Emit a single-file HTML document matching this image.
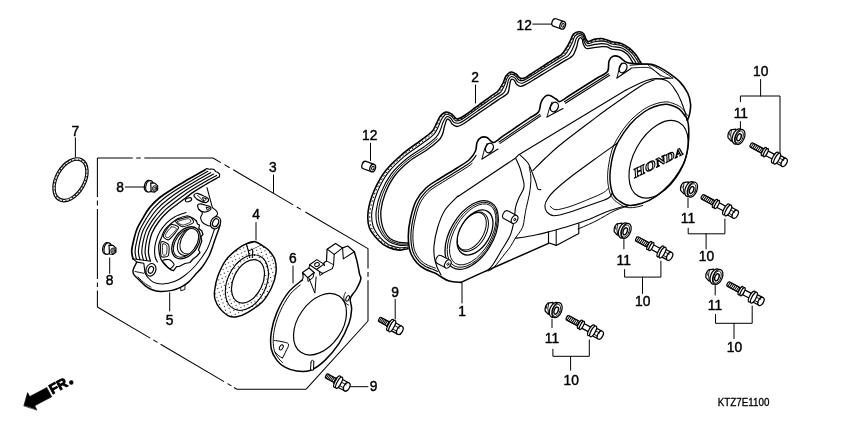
<!DOCTYPE html>
<html><head><meta charset="utf-8"><title>diagram</title>
<style>html,body{margin:0;padding:0;background:#fff;}svg{display:block;will-change:transform;filter:grayscale(1)}
text{font-family:"Liberation Sans",sans-serif;fill:#000;stroke:#000;stroke-width:0.42px}</style></head>
<body><svg width="850" height="425" viewBox="0 0 850 425" stroke-linecap="round" stroke-linejoin="round">
<rect width="850" height="425" fill="#fff"/>
<path d="M408 248.7C406.6 248.9 402.8 250.3 399.5 250.1C396.2 249.9 391.7 249 388.2 247.3C384.7 245.7 381.5 243.5 378.4 240.2C375.2 236.9 371 232.4 369.3 227.5C367.6 222.6 367.4 217.1 368.2 211C369 204.9 371.2 197.5 374.1 190.8C377 184.2 380.7 177.2 385.4 171.1C390.1 165 396.6 159.1 402.4 154.1C408.2 149.1 415.1 144.7 420 141C424.9 137.3 429.1 134.7 431.8 131.8C434.6 128.9 435.1 126 436.5 123.5C437.9 121 438.4 118.4 440 116.5C441.6 114.6 443.9 112.5 445.9 112.1C447.9 111.7 450 113 451.8 114.1C453.6 115.2 454.9 118.2 456.5 118.8C458.1 119.4 459.6 118.3 461.2 117.6C462.8 116.9 464.1 115.8 466 114.5C467.9 113.2 470.3 111.4 472.4 109.8C474.5 108.2 476.7 106.7 478.8 105.1C480.9 103.5 483.1 102 485.2 100.4C487.3 98.8 489.5 97.3 491.6 95.7C493.7 94.1 496.1 93.1 498 91C499.9 88.9 501.7 85.5 503 83C504.3 80.5 504.7 77.8 506 76C507.3 74.2 509.3 72.3 511 72C512.7 71.7 514.5 73 516 74C517.5 75 518.6 77.3 520 78C521.4 78.7 522.8 78.6 524.5 78C526.2 77.4 528 75.8 530 74.5C532 73.2 534.3 71.8 536.4 70.4C538.5 69 540.7 67.7 542.8 66.3C544.9 64.9 547.1 63.6 549.2 62.2C551.3 60.8 553.5 59.5 555.6 58.1C557.7 56.7 560.1 55.9 562 54C563.9 52.1 565.6 49.3 567 47C568.4 44.7 569.5 42.1 570.6 40C571.7 37.9 572.1 35.5 573.5 34.1C574.9 32.7 577.1 31.9 578.8 31.8C580.5 31.7 582.3 32.3 583.5 33.5C584.7 34.7 585.1 37.5 585.9 38.8C586.7 40.1 587.1 41.4 588.5 41.5C589.9 41.6 592 39.9 594.1 39.4C596.2 38.9 599.1 38.4 601.2 38.5C603.4 38.6 605.2 39.5 607 40C608.8 40.5 609.4 41.2 611.8 41.8C614.2 42.4 618.3 42.4 621.2 43.5C624.1 44.6 627 46.4 629.4 48.2C631.8 50 633.5 51.9 635.3 54.1C637.1 56.3 638.7 59.2 640 61.2C641.3 63.2 642.5 65.2 643 66" stroke="#000" stroke-width="1.6" fill="none" />
<path d="M408 247C406.5 247.1 402.4 248.1 399.2 247.7C396 247.3 391.9 246.3 388.7 244.7C385.6 243 382.9 240.7 380.2 237.6C377.6 234.5 374.3 230.3 373 225.8C371.6 221.4 371.3 216.4 372 210.7C372.8 205 374.7 198.1 377.4 191.8C380.1 185.4 383.6 178.5 388.1 172.6C392.6 166.7 398.8 161.1 404.4 156.3C410 151.5 416.9 147.5 421.8 143.8C426.7 140.2 431.1 137.3 433.8 134.4C436.6 131.5 437.1 129.1 438.3 126.7C439.6 124.2 440 121.7 441.3 119.7C442.6 117.6 444.6 114.9 446.2 114.3C447.9 113.7 449.8 115 451.3 116C452.8 117.1 453.8 119.7 455.3 120.5C456.7 121.2 458.3 120.8 459.9 120.3C461.6 119.8 463 118.7 465.1 117.3C467.2 116 469.9 113.9 472.2 112.2C474.6 110.5 477 108.8 479.4 107.1C481.8 105.4 484.2 103.7 486.6 102C488.9 100.3 491.3 98.6 493.7 96.9C496.1 95.2 499 93.9 500.9 91.8C502.7 89.6 503.8 86.5 504.9 84.2C506 81.9 506.2 79.3 507.3 77.7C508.4 76 509.9 74.4 511.3 74.2C512.6 73.9 514.3 75 515.5 76C516.8 76.9 517.6 79.1 519 79.9C520.3 80.6 521.7 80.9 523.5 80.5C525.2 80 527.1 78.5 529.2 77.2C531.4 75.9 534 74.2 536.4 72.7C538.8 71.2 541.1 69.7 543.5 68.2C545.9 66.7 548.3 65.2 550.7 63.7C553 62.2 555.4 60.7 557.8 59.2C560.2 57.7 563 56.5 564.9 54.8C566.8 53 568 50.8 569.2 48.6C570.5 46.5 571.5 44 572.5 42C573.4 39.9 573.7 37.6 574.9 36.2C576 34.8 577.8 33.7 579.2 33.6C580.5 33.5 582.1 34.2 583.1 35.3C584.1 36.4 584.3 39 585.1 40.4C585.9 41.7 586.3 43.4 587.9 43.6C589.5 43.8 592.2 42.2 594.5 41.8C596.7 41.4 599.4 40.9 601.4 40.9C603.5 41 605.3 41.5 607 42C608.7 42.6 609.4 43.4 611.8 44C614.2 44.6 618.4 44.5 621.2 45.5C624 46.5 626.6 48.3 628.7 50C630.8 51.6 632.4 53.5 633.9 55.5C635.4 57.5 636.8 59.9 637.9 61.7C639 63.5 640.1 65.5 640.6 66.3" stroke="#000" stroke-width="1.1" fill="none" />
<path d="M408 245.1C406.5 245.1 402 245.7 398.9 245.1C395.8 244.6 392.1 243.5 389.3 241.8C386.6 240 384.3 237.7 382.2 234.7C380.2 231.8 378 228.1 377 224C376 220 375.6 215.6 376.3 210.4C376.9 205.2 378.5 198.8 381 192.8C383.4 186.8 386.9 179.9 391.1 174.2C395.4 168.5 401.1 163.3 406.6 158.8C412 154.2 418.9 150.6 423.8 147C428.7 143.4 433.3 140.1 436 137.3C438.8 134.5 439.2 132.5 440.3 130.1C441.5 127.8 441.7 125.4 442.7 123.1C443.8 120.9 445.3 117.5 446.6 116.7C447.9 115.9 449.4 117.3 450.7 118.2C451.9 119.1 452.6 121.4 453.9 122.3C455.2 123.1 456.9 123.5 458.6 123.2C460.3 122.9 461.9 121.9 464.1 120.5C466.4 119.1 469.4 116.8 472.1 114.9C474.7 113 477.4 111.2 480.1 109.3C482.7 107.5 485.4 105.6 488 103.7C490.7 101.9 493.4 100 496 98.2C498.7 96.3 502.2 94.7 504 92.6C505.8 90.5 506.2 87.7 507 85.5C507.8 83.3 507.9 81 508.7 79.5C509.5 78 510.5 76.8 511.6 76.5C512.6 76.3 514 77.2 515.1 78.1C516.1 79 516.6 81.1 517.8 81.9C519 82.8 520.5 83.5 522.3 83.2C524.1 82.9 526.1 81.5 528.4 80.2C530.8 78.8 533.7 76.9 536.4 75.3C539 73.6 541.7 72 544.3 70.3C547 68.7 549.6 67.1 552.3 65.4C554.9 63.8 557.6 62.1 560.2 60.5C562.9 58.9 566.3 57.2 568.2 55.6C570.1 53.9 570.7 52.4 571.7 50.5C572.8 48.6 573.7 46.1 574.5 44.1C575.3 42.1 575.5 39.9 576.3 38.4C577.2 37 578.5 35.8 579.6 35.6C580.6 35.4 582 36.2 582.7 37.3C583.5 38.4 583.5 40.6 584.3 42.1C585 43.5 585.5 45.5 587.2 45.9C589 46.3 592.4 44.8 594.9 44.4C597.3 44.1 599.7 43.6 601.7 43.6C603.7 43.6 605.3 43.8 607 44.3C608.7 44.8 609.4 45.9 611.8 46.5C614.2 47 618.5 46.9 621.2 47.8C623.9 48.7 626 50.4 627.9 51.9C629.7 53.5 631.1 55.3 632.3 57.1C633.6 58.8 634.7 60.7 635.6 62.3C636.5 63.9 637.6 65.9 638 66.6" stroke="#000" stroke-width="1.1" fill="none" />
<path d="M408 244.1C406.4 244 401.7 244.4 398.7 243.7C395.6 243 392.2 241.9 389.7 240.2C387.1 238.4 385.1 236 383.3 233.2C381.6 230.3 380 226.9 379.2 223C378.4 219.2 377.9 215.1 378.6 210.2C379.2 205.2 380.6 199.2 382.9 193.4C385.3 187.5 388.6 180.6 392.8 175.1C396.9 169.5 402.4 164.5 407.7 160.1C413.1 155.7 419.9 152.2 424.9 148.7C429.8 145.2 435.2 140.5 437.2 138.8" stroke="#000" stroke-width="0.95" fill="none" />
<path d="M408 243C406.4 242.9 401.5 242.9 398.5 242.2C395.5 241.4 392.3 240.3 390 238.5C387.7 236.7 385.9 234.2 384.5 231.5C383.1 228.8 382.1 225.6 381.5 222C380.9 218.4 380.4 214.7 381 210C381.6 205.3 382.8 199.7 385 194C387.2 188.3 390.5 181.4 394.5 176C398.5 170.6 403.8 165.8 409 161.5C414.2 157.2 421.1 154 426 150.5C430.9 147 435.7 143.2 438.5 140.5C441.3 137.8 441.6 136.2 442.6 134C443.6 131.8 443.6 129.4 444.3 127C445 124.6 446.1 120.5 447 119.4C447.9 118.3 449.1 119.8 450 120.6C450.9 121.4 451.2 123.3 452.4 124.3C453.6 125.3 455.2 126.5 457 126.5C458.8 126.5 460.5 125.4 463 124C465.5 122.6 468.9 119.9 471.9 117.9C474.9 115.9 477.8 113.8 480.8 111.8C483.8 109.8 486.7 107.7 489.7 105.7C492.7 103.7 495.6 101.6 498.6 99.6C501.6 97.6 505.7 95.6 507.5 93.5C509.3 91.4 508.8 89 509.3 87C509.8 85 509.9 82.8 510.3 81.5C510.7 80.2 511.2 79.4 511.9 79.2C512.6 79 513.7 79.7 514.5 80.5C515.3 81.3 515.4 83.2 516.5 84.2C517.6 85.2 519.2 86.4 521 86.3C522.8 86.2 524.9 84.9 527.5 83.5C530.1 82.1 533.4 79.9 536.4 78.1C539.3 76.3 542.3 74.5 545.2 72.7C548.2 70.9 551.1 69.1 554.1 67.3C557 65.5 560 63.7 562.9 61.9C565.9 60.1 569.9 58.1 571.8 56.5C573.7 54.9 573.7 54.2 574.5 52.5C575.3 50.8 576.2 48.4 576.8 46.5C577.4 44.6 577.5 42.5 578 41C578.5 39.5 579.3 38 580 37.8C580.7 37.5 581.8 38.5 582.3 39.5C582.8 40.5 582.6 42.5 583.3 44C584 45.5 584.5 47.9 586.5 48.5C588.5 49.1 592.7 47.7 595.3 47.4C597.9 47.1 600 46.7 602 46.6C604 46.5 605.4 46.4 607 46.8C608.6 47.2 609.4 48.6 611.8 49.2C614.2 49.8 618.7 49.5 621.2 50.3C623.7 51.1 625.4 52.7 627 54.1C628.6 55.5 629.6 57.3 630.6 58.8C631.6 60.3 632.3 61.6 633 63C633.7 64.4 634.7 66.3 635 67" stroke="#000" stroke-width="1.3" fill="none" />
<path d="M408 247.8C406.6 248 402.6 249.2 399.4 248.9C396.1 248.6 391.8 247.7 388.5 246C385.1 244.3 382.2 242.1 379.3 238.9C376.4 235.7 372.7 231.3 371.1 226.7C369.6 222 369.4 216.7 370.1 210.8C370.9 205 373 197.8 375.7 191.3C378.5 184.8 382.2 177.8 386.8 171.8C391.4 165.8 397.7 160.1 403.4 155.2C409.1 150.3 416 146.1 420.9 142.4C425.8 138.7 430.1 136 432.8 133.1C435.6 130.2 436.1 127.6 437.4 125.1C438.7 122.6 439.2 120.1 440.6 118.1C442.1 116.1 444.3 113.7 446.1 113.2C447.9 112.7 449.9 114 451.5 115.1C453.2 116.1 454.4 119 455.9 119.6C457.4 120.3 459 119.6 460.6 118.9C462.2 118.3 463.6 117.2 465.6 115.9C467.5 114.6 470.1 112.7 472.3 111C474.6 109.4 476.8 107.7 479.1 106.1C481.4 104.5 483.6 102.8 485.9 101.2C488.1 99.6 490.4 97.9 492.7 96.3C494.9 94.6 497.5 93.5 499.4 91.4C501.3 89.3 502.7 86 503.9 83.6C505.1 81.2 505.4 78.6 506.6 76.8C507.8 75.1 509.6 73.4 511.1 73.1C512.7 72.8 514.4 74 515.8 75C517.2 75.9 518.1 78.2 519.5 78.9C520.8 79.6 522.3 79.8 524 79.2C525.7 78.7 527.6 77.1 529.6 75.8C531.7 74.6 534.1 73 536.4 71.6C538.7 70.1 540.9 68.7 543.2 67.3C545.4 65.8 547.7 64.4 549.9 63C552.2 61.5 554.4 60.1 556.7 58.7C559 57.2 561.6 56.2 563.5 54.4C565.4 52.6 566.8 50.1 568.1 47.8C569.5 45.6 570.5 43.1 571.5 41C572.5 38.9 572.9 36.5 574.2 35.1C575.4 33.8 577.5 32.8 579 32.7C580.5 32.6 582.2 33.3 583.3 34.4C584.4 35.5 584.7 38.2 585.5 39.6C586.3 40.9 586.7 42.4 588.2 42.5C589.7 42.7 592.1 41.1 594.3 40.6C596.5 40.1 599.2 39.6 601.3 39.7C603.4 39.8 605.3 40.5 607 41C608.7 41.6 609.4 42.3 611.8 42.9C614.2 43.5 618.3 43.5 621.2 44.5C624.1 45.5 626.8 47.4 629 49.1C631.3 50.8 632.9 52.7 634.6 54.8C636.2 56.9 637.7 59.6 639 61.5C640.2 63.4 641.3 65.4 641.8 66.2" stroke="#000" stroke-width="1.0" fill="none" stroke-dasharray="0.7 3.3"/>
<path d="M461 282.4L449 281L441 276.8L435 273L425 269L417 263L410.3 252L408.3 236L410.4 219L416 201L426 188L440 178.5L457 168L469 160L475.5 151L477 142.5L481 137.5L487 137.5L493.5 142.5L502.5 136.4L511.5 130.3L520.5 124.2L529.5 118.1L538.5 112L541 102.5L545 96.5L550 95.5L556 99L560 101.5L569.5 95.5L579 89.5L588.5 83.5L598 77.5L607.5 71.5L609 61L613 56.3L619 56.8L627 62.5L640 64L651.4 64.2L660 67.6L667.9 72.4L679.4 81.4L687.7 93L690.6 104.5L689.5 114.4L687.3 120.5L688 140L680 170L660 195L640 204L628 205.6L618 208L606 212L579 226L578.8 233.4L556.2 245.4L548.5 242.7L548.5 243.4Z" stroke="none" stroke-width="0" fill="#fff" />
<path d="M687.5 120C685.9 116.5 683.1 111.7 679.4 109.1C675.7 106.5 671.2 103.7 665.3 104.2C659.4 104.7 649.9 108.6 644 112C638.1 115.4 634.3 119.5 630 124.5C625.7 129.5 621.3 134.4 618 142C614.7 149.6 611.4 162 610.3 170C609.2 178 610.1 184.9 611.5 190C612.9 195.1 615.8 197.9 618.5 200.5C621.2 203.1 624.1 204.8 628 205.3C631.9 205.8 637.3 204.8 642 203.3C646.7 201.8 651.3 199.5 656 196.3C660.7 193.1 665.2 190.1 670 184C674.8 177.9 681.9 168.9 685 160C688.1 151.1 688.4 137 688.8 130.3C689.2 123.6 689.1 123.5 687.5 120Z" stroke="none" stroke-width="0" fill="#fff" />
<path d="M461 282.4C459 282.2 452.3 281.9 449 281C445.7 280.1 443.3 278.1 441 276.8C438.7 275.5 437.7 274.3 435 273C432.3 271.7 428 270.7 425 269C422 267.3 419.4 265.8 417 263C414.6 260.2 411.8 256.5 410.3 252C408.9 247.5 408.3 241.5 408.3 236C408.3 230.5 409.1 224.8 410.4 219C411.7 213.2 413.4 206.2 416 201C418.6 195.8 422 191.8 426 188C430 184.2 434.8 181.8 440 178.5C445.2 175.2 452.2 171.1 457 168C461.8 164.9 465.9 162.8 469 160C472.1 157.2 474.2 153.9 475.5 151C476.8 148.1 476.1 144.8 477 142.5C477.9 140.2 479.3 138.3 481 137.5C482.7 136.7 484.9 136.7 487 137.5C489.1 138.3 490.9 142.7 493.5 142.5C496.1 142.3 499.5 138.4 502.5 136.4C505.5 134.4 508.5 132.3 511.5 130.3C514.5 128.3 517.5 126.2 520.5 124.2C523.5 122.2 526.5 120.1 529.5 118.1C532.5 116.1 536.6 114.6 538.5 112C540.4 109.4 539.9 105.1 541 102.5C542.1 99.9 543.5 97.7 545 96.5C546.5 95.3 548.2 95.1 550 95.5C551.8 95.9 554.3 98 556 99C557.7 100 557.8 102.1 560 101.5C562.2 100.9 566.3 97.5 569.5 95.5C572.7 93.5 575.8 91.5 579 89.5C582.2 87.5 585.3 85.5 588.5 83.5C591.7 81.5 594.8 79.5 598 77.5C601.2 75.5 605.7 74.2 607.5 71.5C609.3 68.8 608.1 63.5 609 61C609.9 58.5 611.3 57 613 56.3C614.7 55.6 616.7 55.8 619 56.8C621.3 57.8 623.5 61.3 627 62.5C630.5 63.7 635.9 63.7 640 64C644.1 64.3 648.1 63.6 651.4 64.2C654.7 64.8 657.2 66.2 660 67.6C662.8 69 664.7 70.1 667.9 72.4C671.1 74.7 676.1 78 679.4 81.4C682.7 84.8 685.8 89.2 687.7 93C689.6 96.8 690.3 100.9 690.6 104.5C690.9 108.1 690 111.7 689.5 114.4C689 117.1 687.7 119.5 687.3 120.5" stroke="#000" stroke-width="1.6" fill="none" />
<path d="M437.5 271.4L436.1 270.7L434.5 270L432.8 269.3L431 268.7L429.3 268.1L427.7 267.4L426.2 266.7L424.8 265.9L423.5 265.1L422.3 264.3L421.2 263.4L420.1 262.5L418.9 261.3L417.8 259.9L416.6 258.4L415.5 256.7L414.4 255L413.5 253.1L412.8 251.2L412.2 249L411.7 246.6L411.3 244.1L411.1 241.4L410.9 238.7L410.9 236L411 233.4L411.2 230.7L411.5 228L411.9 225.2L412.4 222.4L412.9 219.6L413.6 216.6L414.4 213.5L415.2 210.5L416.1 207.5L417.2 204.7L418.3 202.2L419.6 199.8L421 197.6L422.5 195.6L424.2 193.6L425.9 191.7L427.8 189.9L429.7 188.3L431.7 186.7L434 185.3L436.3 183.8L438.8 182.3L441.4 180.7L444.1 179L447 177.2L450 175.4L452.9 173.6L455.8 171.8L458.4 170.2L460.7 168.7L462.9 167.4L465 166.1L467.1 164.8L469 163.4L470.8 161.9L472.4 160.3L473.8 158.7L475 157L476.1 155.4" stroke="#000" stroke-width="1.15" fill="none" />
<path d="M435.3 268.1L433.4 267.4L431.7 266.8L430 266.2L428.5 265.6L427.1 264.9L425.9 264.2L424.6 263.4L423.5 262.7L422.4 261.9L421.5 261L420.4 259.9L419.3 258.6L418.2 257.2L417.1 255.6L416.2 254L415.3 252.3L414.7 250.6L414.1 248.6L413.7 246.3L413.3 243.8L413.1 241.3L412.9 238.6L412.9 236L413 233.5L413.1 230.9L413.4 228.2L413.8 225.5L414.3 222.8L414.9 220L415.6 217.1L416.3 214L417.1 211.1L418 208.2L419 205.5L420.1 203L421.3 200.8L422.7 198.8L424.1 196.8L425.7 194.9L427.3 193.1L429.1 191.4L430.9 189.8L432.9 188.4L435 187L437.4 185.5L439.9 184L442.5 182.4L445.2 180.7L448 178.9L451 177.1L454 175.3L456.8 173.5L459.4 171.9L461.8 170.5L464 169.1L466.1 167.8L468.2 166.4L470.2 165L472.1 163.4" stroke="#000" stroke-width="1.0" fill="none" />
<line x1="499" y1="142" x2="539.8" y2="114.4" stroke="#000" stroke-width="1.05" />
<line x1="500" y1="143.4" x2="540.8" y2="115.8" stroke="#000" stroke-width="1.05" />
<line x1="564.4" y1="101.8" x2="608.7" y2="73.8" stroke="#000" stroke-width="1.05" />
<line x1="565.4" y1="103.3" x2="609.7" y2="75.3" stroke="#000" stroke-width="1.05" />
<path d="M482 159L498 149" stroke="#000" stroke-width="1.1" fill="none" />
<path d="M487 143.5C486.6 144.6 485.1 147.4 484.3 150C483.5 152.6 482.4 157.5 482 159" stroke="#000" stroke-width="1.0" fill="none" />
<ellipse cx="489.4" cy="148" rx="3.7" ry="5" transform="rotate(25 489.4 148)" stroke="#000" stroke-width="1.3" fill="none" />
<path d="M547 117L563 108.5" stroke="#000" stroke-width="1.1" fill="none" />
<path d="M552 102C551.5 103.2 550.1 106.5 549.3 109C548.5 111.5 547.4 115.7 547 117" stroke="#000" stroke-width="1.0" fill="none" />
<ellipse cx="554.4" cy="107" rx="3.7" ry="5" transform="rotate(25 554.4 107)" stroke="#000" stroke-width="1.3" fill="none" />
<path d="M617 78L631 68.5" stroke="#000" stroke-width="1.1" fill="none" />
<path d="M621.5 63C621.1 64.2 619.8 67.5 619 70C618.2 72.5 617.3 76.7 617 78" stroke="#000" stroke-width="1.0" fill="none" />
<ellipse cx="623" cy="68" rx="3.7" ry="5" transform="rotate(25 623 68)" stroke="#000" stroke-width="1.3" fill="none" />
<path d="M630 65.3C632.8 65.1 642.4 64.1 646.5 64.3C650.6 64.5 652 65.4 654.7 66.6C657.5 67.8 660 69.6 663 71.5C666 73.4 671.2 77 672.8 78.1" stroke="#000" stroke-width="0.95" fill="none" />
<path d="M631 68C633.6 67.9 642.8 67.2 646.5 67.4C650.2 67.7 651.1 68.5 653 69.5C654.9 70.5 656.3 72 658 73.2C659.7 74.4 661 75.7 663 76.5C665 77.3 668.8 78 670 78.3" stroke="#000" stroke-width="0.9" fill="none" />
<path d="M648 65L661 76.5" stroke="#000" stroke-width="0.8" fill="none" />
<path d="M654.7 79L672.8 78.1" stroke="#000" stroke-width="0.9" fill="none" />
<path d="M626 90C626.7 89.7 626.6 89.6 630 88C633.4 86.4 642.1 82.2 646.5 80.6C650.9 79 652.8 78.5 656.4 78.6C660 78.7 664.6 79.3 667.9 81.4C671.2 83.5 673.9 88 676.1 91.3C678.3 94.6 679.6 97.6 681.1 101.2C682.6 104.8 684.2 109.6 685.2 112.7C686.2 115.8 686.5 118.9 686.8 120.1" stroke="#000" stroke-width="1.1" fill="none" />
<path d="M687.5 120C686.9 117.7 686.6 118 685.3 116.2C683.9 114.4 681.6 110.9 679.4 109.1C677.2 107.3 674.4 106.3 672 105.5C669.6 104.7 668.1 104 665.3 104.2C662.5 104.4 658.5 105.2 655 106.5C651.5 107.8 648.2 109 644 112C639.8 115 634.3 119.5 630 124.5C625.7 129.5 620.8 136.9 618 142C615.2 147.1 614.3 150.3 613 155C611.7 159.7 610.8 165.8 610.3 170C609.8 174.2 609.8 176.7 610 180C610.2 183.3 610.8 187.3 611.5 190C612.2 192.7 612.8 194.2 614 196C615.2 197.8 616.2 198.9 618.5 200.5C620.8 202.1 624.1 204.8 628 205.3C631.9 205.8 637.3 204.8 642 203.3C646.7 201.8 651.3 199.5 656 196.3C660.7 193.1 666.2 188.1 670 184C673.8 179.9 676.5 176 679 172C681.5 168 683.5 164.5 685 160C686.5 155.5 687.6 149.9 688.2 145C688.8 140.1 688.9 134.5 688.8 130.3C688.7 126.1 688.1 122.3 687.5 120Z" stroke="#000" stroke-width="1.5" fill="none" />
<path d="M688.1 116L687.7 115.5L687.1 114.8L686.4 113.8L685.5 112.6L684.5 111.2L683.4 109.8L682.1 108.5L680.9 107.3L679.5 106.3L678.1 105.5L676.7 104.8L675.3 104.3L674 103.8L672.8 103.3L671.6 102.9L670.5 102.6L669.4 102.2L668.1 102L666.7 101.9L665.2 101.9L663.5 102.1L661.8 102.3L659.9 102.7L658 103.1L656.1 103.7L654.2 104.3L652.4 105L650.6 105.7L648.7 106.5L646.8 107.5L644.8 108.7L642.7 110.1L640.4 111.8L638 113.7L635.5 115.8L633 118L630.6 120.4L628.3 123L626 125.8L623.7 128.8L621.5 131.9L619.5 135.1L617.6 138.1L616 140.9L614.7 143.4L613.6 145.7L612.8 147.9L612 150L611.4 152.1L610.8 154.4L610.1 156.9L609.6 159.6L609.1 162.3L608.7 165L608.3 167.5L608 169.7L607.8 171.7L607.7 173.6L607.6 175.3L607.6 176.9L607.6 178.5L607.7 180.1L607.8 181.9L608 183.8L608.3 185.6L608.6 187.4L608.9 189L609.3 190.6L609.6 191.9L610 193.1L610.4 194.2L610.9 195.3L611.5 196.3L612.1 197.3L612.7 198.2L613.4 199.1L614.2 199.9L615 200.8L616.1 201.6L617.2 202.4L618.4 203.2L619.9 204.2L621.5 205.3L623.4 206.3L625.4 207.1L627.7 207.6L630.1 207.7L632.5 207.6L635.1 207.3L637.6 206.8L640.2 206.2L642.7 205.5" stroke="#000" stroke-width="0.95" fill="none" />
<ellipse cx="658.6" cy="159.2" rx="24.7" ry="42.1" transform="rotate(28.7 658.6 159.2)" stroke="#000" stroke-width="1.15" fill="none" />
<path d="M458 196.5L515.3 158.2L518.8 154.7L626 90" stroke="#000" stroke-width="1.1" fill="none" />
<path d="M533 170.5C535 168.5 540.5 162.8 545 158.5C549.5 154.2 552.5 151.1 560 145C567.5 138.9 582.3 127.8 590 122C597.7 116.2 597.7 115.9 606 110C614.3 104.1 632 91.5 640 86.5C648 81.5 651.7 81.1 654 80" stroke="#000" stroke-width="1.1" fill="none" />
<path d="M519.5 154.5C520.9 155.9 525.8 159.6 528 163C530.2 166.4 531.7 171.4 533 174.7C534.3 178 535.2 180.6 536 183C536.8 185.4 537 187.9 537.8 189C538.6 190.1 540.3 189.5 540.8 189.6" stroke="#000" stroke-width="1.05" fill="none" />
<path d="M458 196C455.8 198.3 448.4 204.7 445 210C441.6 215.3 439.3 222 437.5 228C435.7 234 434.5 241 434 246C433.5 251 434 254.5 434.5 258C435 261.5 435.9 264.2 437 267C438.1 269.8 440.3 273.7 441 275" stroke="#000" stroke-width="1.1" fill="none" />
<ellipse cx="471.7" cy="235" rx="21.5" ry="37.8" transform="rotate(30.5 471.7 235)" stroke="#000" stroke-width="1.25" fill="none" />
<ellipse cx="472.2" cy="234.8" rx="19.9" ry="35.9" transform="rotate(30.5 472.2 234.8)" stroke="#000" stroke-width="0.85" fill="none" />
<ellipse cx="472.7" cy="234.4" rx="18.2" ry="33.8" transform="rotate(30.5 472.7 234.4)" stroke="#000" stroke-width="0.85" fill="none" />
<clipPath id="sealclip"><ellipse cx="475" cy="232.5" rx="15" ry="24.6" transform="rotate(30.7 475 232.5)"/></clipPath>
<g clip-path="url(#sealclip)"><ellipse cx="472.8" cy="231.8" rx="13" ry="21.5" transform="rotate(30.7 472.8 231.8)" stroke="#000" stroke-width="1.0" fill="none" /><ellipse cx="471.6" cy="231.3" rx="12" ry="20.5" transform="rotate(30.7 471.6 231.3)" stroke="#000" stroke-width="1.0" fill="none" /></g>
<ellipse cx="475" cy="232.5" rx="15" ry="24.6" transform="rotate(30.7 475 232.5)" stroke="#000" stroke-width="1.25" fill="none" />
<path d="M515.8 158.5C516.5 160.1 518.9 164.9 520 168C521.1 171.1 521.7 174.3 522.4 177C523.1 179.7 523.9 181.9 524 184C524.1 186.1 524.2 187.2 523.3 189.5C522.4 191.8 520.1 195 518.8 198C517.5 201 516.2 204.1 515.5 207.6C514.8 211.1 514.8 215.6 514.3 219C513.8 222.4 513.3 225 512.5 228C511.7 231 511.3 233.3 509.5 237C507.7 240.7 504.2 245.7 501.5 250.3C498.8 254.9 495.4 261.1 493 264.5C490.6 267.9 488 269.9 487 271" stroke="#000" stroke-width="1.1" fill="none" />
<path d="M529.2 167C529.5 168.5 530.6 173 530.8 176C531 179 530.9 181.8 530.6 185C530.3 188.2 529.9 191.2 529.2 195C528.5 198.8 527.1 203.9 526.3 207.6C525.5 211.3 525.2 213.7 524.6 217C524 220.3 524 224.1 522.4 227.7C520.8 231.2 517.3 235.2 515.3 238.3C513.3 241.4 512.1 244 510.5 246.5C508.9 249 508.1 249.7 505.4 253.1C502.7 256.6 496.9 264.2 494.1 267.2C491.3 270.1 489.4 270.2 488.5 270.8" stroke="#000" stroke-width="1.0" fill="none" />
<path d="M461 282.4L480 273.6L548.5 243.4" stroke="#000" stroke-width="1.5" fill="none" />
<path d="M515.3 238.3C516.9 238.1 521.5 237.6 525 237C528.5 236.4 532.6 235.7 536.5 234.8C540.4 234 542.9 233.4 548.5 231.9C554.1 230.4 563.1 228 570 225.8C576.9 223.7 584 221.3 590 219C596 216.7 601.3 213.8 606 212C610.7 210.2 614.3 209.1 618 208C621.7 206.9 626.3 206 628 205.6" stroke="#000" stroke-width="1.1" fill="none" />
<path d="M578 229C581 227.7 590 224 596 221C602 218 608.7 213.5 614 211C619.3 208.5 625.7 206.7 628 205.8" stroke="#000" stroke-width="1.0" fill="none" />
<path d="M548.5 231.9L548.5 242.7L556.2 245.4L578.8 233.4L578.8 223.5" stroke="#000" stroke-width="1.15" fill="none" />
<path d="M556.2 229.8L556.2 245.4" stroke="#000" stroke-width="1.05" fill="none" />
<path d="M617.5 143C613.6 145.8 601.8 154.1 594 159.8C586.2 165.5 577.3 171.8 570.6 177C563.9 182.2 557.9 187.3 554 191C550.1 194.7 549 196.6 547.5 199C546 201.4 545 203.3 544.9 205.5C544.8 207.7 545.5 210.5 547 212.2C548.5 213.9 550.2 215.7 554 215.7C557.8 215.7 564 213.8 570 212C576 210.2 583.6 207.3 590 205C596.4 202.7 604.5 200.3 608.2 198.2C612 196.1 611.8 193.4 612.5 192.5" stroke="#000" stroke-width="1.1" fill="none" />
<path d="M550.4 206.5C551.3 207 552.7 209.7 556 209.7C559.3 209.7 564.3 208.3 570 206.5C575.7 204.7 584.4 201 590 198.7C595.6 196.4 600.4 194.4 603.5 192.6C606.6 190.8 607.7 188.8 608.5 188" stroke="#000" stroke-width="0.95" fill="none" />
<g transform="translate(514.6 219.4) rotate(28)"><path d="M0 -4.4 L-9.5 -4.4 Q-12.8 -4.4 -12.8 0 Q-12.8 4.4 -9.5 4.4 L0 4.4Z" fill="#fff" stroke="#000" stroke-width="1.1"/><ellipse cx="0" cy="0" rx="2.9" ry="4.4" fill="#fff" stroke="#000" stroke-width="1.1"/><ellipse cx="0.2" cy="0" rx="0.9" ry="1.4" fill="#fff" stroke="#000" stroke-width="0.8"/></g>
<g transform="translate(447.8 264) rotate(28)"><path d="M0 -4.4 L-9.5 -4.4 Q-12.8 -4.4 -12.8 0 Q-12.8 4.4 -9.5 4.4 L0 4.4Z" fill="#fff" stroke="#000" stroke-width="1.1"/><ellipse cx="0" cy="0" rx="2.9" ry="4.4" fill="#fff" stroke="#000" stroke-width="1.1"/><ellipse cx="0.2" cy="0" rx="0.9" ry="1.4" fill="#fff" stroke="#000" stroke-width="0.8"/></g>
<g transform="translate(634.2 178.3) rotate(-26) skewX(-22) scale(1.22 1)" style="font-family:'Liberation Serif',serif;font-weight:bold"><text x="0" y="0" font-size="12.6" text-anchor="start" style="fill:#fff;stroke:#000;stroke-width:1px;font-family:'Liberation Serif',serif">H</text><text x="10.3" y="0" font-size="12.1" text-anchor="start" style="fill:#fff;stroke:#000;stroke-width:1px;font-family:'Liberation Serif',serif">O</text><text x="20.1" y="0" font-size="11.6" text-anchor="start" style="fill:#fff;stroke:#000;stroke-width:1px;font-family:'Liberation Serif',serif">N</text><text x="28.9" y="0" font-size="11.0" text-anchor="start" style="fill:#fff;stroke:#000;stroke-width:1px;font-family:'Liberation Serif',serif">D</text><text x="37.3" y="0" font-size="10.4" text-anchor="start" style="fill:#fff;stroke:#000;stroke-width:1px;font-family:'Liberation Serif',serif">A</text></g>
<ellipse cx="70.5" cy="179.8" rx="15.1" ry="23.8" transform="rotate(29.7 70.5 179.8)" stroke="#000" stroke-width="1.2" fill="none" />
<ellipse cx="70.5" cy="179.8" rx="12.8" ry="21.3" transform="rotate(29.7 70.5 179.8)" stroke="#000" stroke-width="1.1" fill="none" />
<ellipse cx="70.5" cy="179.8" rx="13.9" ry="22.5" transform="rotate(29.7 70.5 179.8)" stroke="#000" stroke-width="0.9" fill="none" stroke-dasharray="0.6 3"/>
<path d="M136.8 262.1C136.2 263.4 133.7 267.7 133.2 269.8C132.7 271.9 133 273 133.8 274.5C134.6 276 136 276.9 137.9 278.8C139.8 280.7 142.7 283.8 145 285.6C147.3 287.4 149.4 288.8 152 289.8C154.6 290.8 157 291.4 160.3 291.5C163.6 291.6 168.5 291.2 172 290.4C175.5 289.6 178.8 288.2 181.5 286.8C184.2 285.4 186.2 284.1 188.5 282.1C190.8 280.1 192.7 277.6 195 275C197.3 272.4 200.3 269.7 202.6 266.5C204.9 263.3 207.3 259.2 209 256C210.7 252.8 211.5 249.7 212.5 247C213.5 244.3 213.8 242.8 214.8 240C215.8 237.2 217.4 233 218.3 230.5C219.2 228 219.7 225.9 220 225" stroke="#000" stroke-width="1.45" fill="none" />
<path d="M145 272.7C145.4 273.4 146 275.2 147.4 276.8C148.8 278.4 150.7 280.9 153.2 282.1C155.7 283.3 159.1 284 162.6 283.9C166.1 283.8 170.9 282.8 174.4 281.5C177.9 280.2 180.7 278.4 183.8 276.2C186.9 273.9 190.3 270.9 193.2 268C196.1 265.1 198.7 261.7 201 258.5C203.3 255.3 205.4 252.4 207.2 249C208.9 245.6 210.3 241.3 211.5 238C212.7 234.7 214 230.5 214.5 229" stroke="#000" stroke-width="1.05" fill="none" />
<path d="M180.6 287.2L180.9 290.8L184.9 289.4L185 285.3" stroke="#000" stroke-width="0.9" fill="none" />
<path d="M204.9 169.9C202.2 171.4 194 176 188.8 179.1C183.6 182.2 178.3 185.2 173.5 188.3C168.7 191.4 163.8 194.3 159.8 197.5C155.9 200.7 152.6 204 149.8 207.4C147 210.8 145 214.5 142.9 218.1C140.8 221.7 138.6 225.2 137 229C135.4 232.8 134.4 237.3 133.5 241C132.6 244.7 131.8 248 131.7 251C131.6 254 132.8 257.5 133 258.8" stroke="#000" stroke-width="1.7" fill="none" />
<path d="M207.8 171.3C205.2 172.8 197.2 177.2 192.2 180.2C187.1 183.1 182.2 186 177.5 189.1C172.8 192.1 168.1 195.1 164.1 198.3C160.1 201.4 156.6 204.7 153.5 208.1C150.5 211.6 148.3 215.3 146 218.9C143.8 222.5 141.6 226 140 229.8C138.4 233.6 137.5 237.8 136.7 241.4C135.8 245 135.1 248.4 135.1 251.4C135 254.4 136.2 258 136.5 259.3" stroke="#000" stroke-width="1.15" fill="none" />
<path d="M210.7 172.7C208.2 174.1 200.4 178.4 195.6 181.3C190.7 184.1 186 186.9 181.5 189.8C176.9 192.8 172.4 195.9 168.4 199C164.3 202.2 160.5 205.4 157.3 208.8C154.1 212.3 151.5 216 149.1 219.7C146.8 223.3 144.6 226.9 143 230.6C141.4 234.3 140.6 238.3 139.8 241.8C139.1 245.3 138.4 248.8 138.4 251.8C138.4 254.8 139.7 258.4 140 259.8" stroke="#000" stroke-width="1.15" fill="none" />
<path d="M213.6 174C211.2 175.4 203.6 179.6 198.9 182.3C194.2 185.1 189.8 187.7 185.4 190.6C181.1 193.5 176.7 196.6 172.6 199.8C168.6 202.9 164.4 206.1 161 209.6C157.6 213 154.8 216.8 152.3 220.4C149.8 224.1 147.5 227.8 146 231.4C144.5 235 143.7 238.7 143 242.2C142.3 245.7 141.7 249.2 141.8 252.2C141.9 255.2 143.2 258.9 143.4 260.2" stroke="#000" stroke-width="1.15" fill="none" />
<path d="M216.5 175.4C214.1 176.8 206.8 180.8 202.3 183.4C197.8 186.1 193.7 188.5 189.4 191.3C185.2 194.2 181 197.4 176.9 200.5C172.8 203.7 168.3 206.8 164.8 210.3C161.2 213.7 158 217.6 155.4 221.2C152.8 224.9 150.5 228.6 149 232.2C147.5 235.8 146.8 239.2 146.1 242.6C145.5 246 145 249.6 145.1 252.6C145.3 255.6 146.6 259.4 146.9 260.7" stroke="#000" stroke-width="1.15" fill="none" />
<path d="M219.4 176.8C217.1 178.1 210 181.9 205.7 184.5C201.4 187.1 197.5 189.3 193.4 192.1C189.3 194.9 185.3 198.2 181.2 201.3C177 204.5 172.3 207.6 168.5 211C164.7 214.4 161.2 218.3 158.5 222C155.8 225.7 153.5 229.5 152 233C150.5 236.5 149.9 239.7 149.3 243C148.7 246.3 148.3 250 148.5 253C148.7 256 150.1 259.8 150.4 261.2" stroke="#000" stroke-width="1.3" fill="none" />
<path d="M204.9 169.9C205.2 169.7 206.2 168.7 207 168.6C207.8 168.5 208.7 169.2 209.5 169.3C210.3 169.4 211.1 168.9 211.8 169C212.6 169.1 213.3 169.2 214 169.6C214.7 170 215.1 171.1 215.8 171.6C216.5 172.1 217.4 172 218 172.5C218.6 173 219.4 173.8 219.6 174.5C219.8 175.2 219.4 176.4 219.4 176.8" stroke="#000" stroke-width="1.1" fill="none" />
<path d="M133 258.8L150.4 261.2" stroke="#000" stroke-width="1.0" fill="none" />
<path d="M133 258.8L136.8 262.1L143.8 263.3L145 272.7" stroke="#000" stroke-width="1.1" fill="none" />
<ellipse cx="150.9" cy="269.8" rx="4.9" ry="6.4" transform="rotate(20 150.9 269.8)" stroke="#000" stroke-width="1.15" fill="#fff" />
<ellipse cx="150.9" cy="269.8" rx="2.5" ry="3.5" transform="rotate(20 150.9 269.8)" stroke="#000" stroke-width="1.2" fill="none" />
<path d="M135 271.5L143.8 273.3" stroke="#000" stroke-width="0.9" fill="none" />
<path d="M137.9 276.8C138.5 277.4 140.2 279.3 141.5 280.5C142.8 281.7 144 282.8 145.6 283.9C147.2 285 150.1 286.5 151 287" stroke="#000" stroke-width="0.9" fill="none" />
<path d="M186 212.6C184.1 213.3 177.8 215.2 174.6 216.9C171.4 218.6 169.2 220.4 166.7 222.9C164.2 225.4 161.6 228.7 159.8 231.8C158 234.9 156.8 238.6 155.9 241.6C155 244.6 154.7 247.3 154.6 250C154.5 252.7 154.8 255.5 155.3 257.5C155.8 259.5 157.1 261.2 157.5 262" stroke="#000" stroke-width="1.1" fill="none" />
<path d="M196.4 220.9C195.7 220.4 194.1 218.7 192.4 217.9C190.8 217.1 189 215.8 186.5 216C184 216.2 180.2 217.6 177.6 218.9C175 220.2 172.8 222.1 170.7 223.9C168.6 225.7 166.3 227.7 164.8 229.8C163.3 231.9 162.8 234.2 161.8 236.7C160.8 239.2 159.2 242.2 158.8 244.9C158.4 247.6 158.9 250.3 159.3 252.8C159.7 255.3 160.1 257.6 161.2 259.7C162.3 261.8 164.1 264 165.7 265.6C167.3 267.2 169.3 268.8 170.6 269.6C171.9 270.4 173.1 270.4 173.6 270.6" stroke="#000" stroke-width="1.25" fill="none" />
<ellipse cx="186" cy="242.8" rx="11.8" ry="17.9" transform="rotate(36.5 186 242.8)" stroke="#000" stroke-width="1.3" fill="none" />
<clipPath id="hubclip"><ellipse cx="186" cy="242.85" rx="10.2" ry="16.2" transform="rotate(36.5 186 242.85)"/></clipPath>
<g clip-path="url(#hubclip)"><ellipse cx="190" cy="241" rx="10.2" ry="16.2" transform="rotate(36.5 190 241)" stroke="#000" stroke-width="1.0" fill="none" /><ellipse cx="192.6" cy="239.6" rx="10.2" ry="16.2" transform="rotate(36.5 192.6 239.6)" stroke="#000" stroke-width="1.0" fill="none" /></g>
<ellipse cx="186" cy="242.8" rx="10.2" ry="16.2" transform="rotate(36.5 186 242.8)" stroke="#000" stroke-width="1.0" fill="none" />
<path d="M175.6 220.9C176.4 219.8 187.4 216.8 189.5 217C191.6 217.2 194.2 221.4 193.4 222.5C192.6 223.6 184.6 227 182.5 226.8C180.4 226.6 174.8 222 175.6 220.9Z" stroke="#000" stroke-width="1.05" fill="none" />
<path d="M170.7 224.8C172.5 223.9 178.8 226.1 178.6 227.8C178.4 229.5 170.5 238.8 168.7 239.7C166.9 240.6 163.1 237.4 163.3 235.7C163.5 234 168.9 225.7 170.7 224.8Z" stroke="#000" stroke-width="1.05" fill="none" />
<path d="M161.2 241.9C162.1 240.6 167.9 243.3 168.7 244.9C169.5 246.5 169.1 254.5 168.2 255.8C167.3 257.1 162 257.8 161.2 256.2C160.4 254.6 160.3 243.2 161.2 241.9Z" stroke="#000" stroke-width="1.05" fill="none" />
<path d="M162.7 260.7C162.7 259.7 168.3 259.2 169.6 259.7C170.9 260.2 174.1 263.6 174.1 264.6C174.1 265.6 170.9 269.1 169.6 268.6C168.3 268.1 162.7 261.7 162.7 260.7Z" stroke="#000" stroke-width="1.05" fill="none" />
<path d="M177.2 221.8C177.8 221.1 186.7 218.6 188.3 218.6C189.9 218.6 191.4 221.3 190.8 222C190.2 222.7 184.4 225 182.8 225C181.2 225 176.6 222.5 177.2 221.8Z" stroke="#000" stroke-width="0.8" fill="none" />
<path d="M171.2 227C172.5 226.3 176.8 227.8 176.5 229C176.2 230.2 169.6 236.9 168.3 237.6C167 238.3 165 236.5 165.3 235.3C165.6 234.1 169.9 227.7 171.2 227Z" stroke="#000" stroke-width="0.8" fill="none" />
<path d="M162.8 244C163.3 243 166.4 244.6 166.8 245.8C167.2 247 166.9 253.2 166.4 254.2C165.9 255.2 163.2 255.6 162.8 254.4C162.4 253.2 162.3 245 162.8 244Z" stroke="#000" stroke-width="0.8" fill="none" />
<path d="M196.4 220.9L197.5 224L199.5 225L198.8 228.5L201.8 231L203 234.5L201 236.5L201.8 241L200 246L198.5 250L200 252.5L197 256L193 259L190 262.5L185 263.5L179 266.5L176.6 266.6L173.6 270.6" stroke="#000" stroke-width="1.2" fill="none" />
<ellipse cx="188.5" cy="199.8" rx="3.3" ry="1.9" transform="rotate(-20 188.5 199.8)" stroke="#000" stroke-width="1.1" fill="none" />
<path d="M194.1 194.7C194.4 194.4 196.2 193 197.6 193.3C198.9 193.6 206.5 197.2 207.6 198C208.7 198.8 208.6 200.3 208.4 200.8C208.2 201.3 206.4 202.7 205.3 202.6C204.2 202.5 198.7 200.2 197.6 199.6C196.5 199 194.8 197.2 194.4 196.7C194.1 196.2 193.8 195 194.1 194.7Z" stroke="#000" stroke-width="1.2" fill="none" />
<path d="M202.9 197.6L206.6 198.8L204.1 201.3Z" stroke="#000" stroke-width="1.0" fill="none" />
<path d="M197.6 195.3L202.9 200.6" stroke="#000" stroke-width="0.9" fill="none" />
<path d="M197.6 205.3C197.7 204.8 199 203.8 200.2 203.9C201.4 204 208.3 205.9 209.4 206.4C210.5 206.9 211 208.3 210.9 208.8C210.8 209.3 208.9 211 208.2 211.3C207.5 211.6 204.4 212.1 203.5 211.9C202.6 211.7 199.4 210.1 198.8 209.4C198.2 208.7 197.5 205.9 197.6 205.3Z" stroke="#000" stroke-width="1.2" fill="none" />
<path d="M206.5 207.1L209.5 208.2L207.6 210.1Z" stroke="#000" stroke-width="1.0" fill="none" />
<path d="M207 187.6L212.4 207.6" stroke="#000" stroke-width="1.05" fill="none" />
<path d="M198.8 209.4C199.4 210 202.1 211.5 202.4 212.9C202.7 214.3 200.6 216 200.6 217.6C200.6 219.2 201.3 221.1 202.4 222.4C203.5 223.7 205.7 224.7 207.1 225.3C208.5 225.9 210.2 226 210.8 226.1" stroke="#000" stroke-width="1.1" fill="none" />
<path d="M212.4 207.6C213.1 208.2 215.6 210.1 216.5 211.2C217.4 212.3 217.8 213.2 217.6 214.1C217.4 215 215.7 216.3 215.3 216.7" stroke="#000" stroke-width="1.05" fill="none" />
<ellipse cx="215.6" cy="222.7" rx="4.9" ry="6.3" transform="rotate(25 215.6 222.7)" stroke="#000" stroke-width="1.2" fill="#fff" />
<ellipse cx="215.6" cy="222.7" rx="2.8" ry="4.1" transform="rotate(25 215.6 222.7)" stroke="#000" stroke-width="1.25" fill="none" />
<line x1="169.7" y1="292.8" x2="169.7" y2="311" stroke="#000" stroke-width="1.0" />
<pattern id="dots" width="5.2" height="5.6" patternUnits="userSpaceOnUse" patternTransform="rotate(23)"><circle cx="1.2" cy="1.3" r="0.62" fill="#111"/><circle cx="3.9" cy="4.1" r="0.55" fill="#111"/></pattern>
<path d="M214.5 291.4C214.9 287.5 215.8 281.9 217.7 276.6C219.6 271.3 222.7 264.4 226.2 259.6C229.7 254.8 235.6 250.6 238.9 248C242.2 245.4 243.7 244.9 246.3 243.8C249 242.7 252.3 241.4 254.8 241.6C257.3 241.8 258.8 243.4 261.1 244.8C263.4 246.2 266.2 247.6 268.5 250.1C270.8 252.6 273.6 255.9 274.9 259.6C276.1 263.3 276.5 267.8 276 272.4C275.5 277 274 282.3 271.7 287.2C269.4 292.1 266.2 297.8 262.2 302C258.1 306.2 251.6 310.1 247.4 312.6C243.2 315.1 240 316.3 236.8 316.8C233.6 317.3 231.1 317.2 228.3 315.8C225.5 314.4 222 311 219.8 308.4C217.6 305.8 216.1 302.7 215.2 299.9C214.3 297.1 214.1 295.3 214.5 291.4Z" stroke="none" stroke-width="0" fill="#fff" />
<path d="M214.5 291.4C214.9 287.5 215.8 281.9 217.7 276.6C219.6 271.3 222.7 264.4 226.2 259.6C229.7 254.8 235.6 250.6 238.9 248C242.2 245.4 243.7 244.9 246.3 243.8C249 242.7 252.3 241.4 254.8 241.6C257.3 241.8 258.8 243.4 261.1 244.8C263.4 246.2 266.2 247.6 268.5 250.1C270.8 252.6 273.6 255.9 274.9 259.6C276.1 263.3 276.5 267.8 276 272.4C275.5 277 274 282.3 271.7 287.2C269.4 292.1 266.2 297.8 262.2 302C258.1 306.2 251.6 310.1 247.4 312.6C243.2 315.1 240 316.3 236.8 316.8C233.6 317.3 231.1 317.2 228.3 315.8C225.5 314.4 222 311 219.8 308.4C217.6 305.8 216.1 302.7 215.2 299.9C214.3 297.1 214.1 295.3 214.5 291.4Z" stroke="none" stroke-width="0" fill="url(#dots)" />
<ellipse cx="248" cy="281.3" rx="14.6" ry="23" transform="rotate(25.6 248 281.3)" stroke="none" stroke-width="0" fill="#fff" />
<path d="M214.5 291.4C214.9 287.5 215.8 281.9 217.7 276.6C219.6 271.3 222.7 264.4 226.2 259.6C229.7 254.8 235.6 250.6 238.9 248C242.2 245.4 243.7 244.9 246.3 243.8C249 242.7 252.3 241.4 254.8 241.6C257.3 241.8 258.8 243.4 261.1 244.8C263.4 246.2 266.2 247.6 268.5 250.1C270.8 252.6 273.6 255.9 274.9 259.6C276.1 263.3 276.5 267.8 276 272.4C275.5 277 274 282.3 271.7 287.2C269.4 292.1 266.2 297.8 262.2 302C258.1 306.2 251.6 310.1 247.4 312.6C243.2 315.1 240 316.3 236.8 316.8C233.6 317.3 231.1 317.2 228.3 315.8C225.5 314.4 222 311 219.8 308.4C217.6 305.8 216.1 302.7 215.2 299.9C214.3 297.1 214.1 295.3 214.5 291.4Z" stroke="#000" stroke-width="1.45" fill="none" />
<ellipse cx="246.9" cy="282.6" rx="19.3" ry="29.4" transform="rotate(25.6 246.9 282.6)" stroke="#000" stroke-width="1.1" fill="none" />
<ellipse cx="248" cy="281.3" rx="14.6" ry="23" transform="rotate(25.6 248 281.3)" stroke="#000" stroke-width="1.2" fill="none" />
<path d="M246.3 243.8L248.4 251.2L249.5 257.5" stroke="#000" stroke-width="1.1" fill="none" />
<path d="M248.4 251.2L252.6 249L261.1 244.8" stroke="#000" stroke-width="1.0" fill="none" />
<path d="M252.6 249L252.6 257.5" stroke="#000" stroke-width="1.0" fill="none" />
<path d="M246.3 243.8L254.8 241.6L261.1 244.8L252.6 249L246.3 243.8Z" stroke="none" stroke-width="0" fill="#fff" />
<path d="M246.3 243.8L254.8 241.6L261.1 244.8" stroke="#000" stroke-width="1.2" fill="none" />
<path d="M302.4 279.9C300 282 292.4 287.2 288.2 292.6C283.9 298 279.7 305.8 276.9 312.4C274.1 319 272.2 326 271.3 332.1C270.4 338.2 270.4 344.3 271.3 349C272.2 353.7 274.5 357.3 276.9 360.4C279.2 363.5 282.1 365.6 285.4 367.4C288.7 369.2 292.5 370.6 296.7 371.1C300.9 371.6 306.1 372 310.8 370.2C315.5 368.4 320.2 364.9 324.9 360.4C329.6 355.9 335.1 349.5 339.1 343.4C343.1 337.3 346.8 329.2 348.9 323.6C351 318 351.4 313.5 351.6 309.5C351.8 305.5 350.1 302 350.2 299.5C350.3 297 351.4 296.2 352.5 294.5C353.6 292.8 355.1 291.6 356.5 289C357.9 286.4 360.3 281.5 360.8 279C361.3 276.5 360.1 276.8 359.5 273.8C358.9 270.8 357.8 264.6 356.9 260.9C356 257.2 354.7 253.3 354.3 251.8" stroke="#000" stroke-width="1.5" fill="none" />
<path d="M300.2 285L297.7 287L295 289.3L292.4 291.7L290.2 294.2L288.2 297L286.2 300L284.3 303.3L282.4 306.7L280.8 310.1L279.3 313.4L278 316.6L276.9 319.9L275.9 323.1L275.1 326.3L274.4 329.5L273.9 332.5L273.5 335.4L273.3 338.3L273.2 341.1L273.3 343.7L273.5 346.2L273.8 348.5L274.4 350.5L275 352.4L275.9 354.1L276.8 355.8L277.9 357.3L278.9 358.8L280 360.1L281.2 361.3L282.4 362.4" stroke="#000" stroke-width="0.95" fill="none" />
<ellipse cx="320" cy="324.2" rx="22.2" ry="34" transform="rotate(34.2 320 324.2)" stroke="#000" stroke-width="1.2" fill="none" />
<path d="M354.3 251.8L347.8 246L342.6 247.9L335.5 243.4L327.1 249.2L326.5 260.9L323.9 262.8L324.3 265.6" stroke="#000" stroke-width="1.2" fill="none" />
<path d="M327.1 249.2L334.2 254.4L342.6 247.9" stroke="#000" stroke-width="1.05" fill="none" />
<path d="M334.2 254.4L333.6 264.8L332.3 268.6" stroke="#000" stroke-width="1.05" fill="none" />
<path d="M342.6 247.9L343.3 258.9L354.3 251.8" stroke="#000" stroke-width="1.05" fill="none" />
<path d="M326.5 260.9L333.6 264.8" stroke="#000" stroke-width="0.9" fill="none" />
<path d="M309.6 264.8L316.8 259.6L323.9 264.1L316.5 269.5Z" stroke="#000" stroke-width="1.1" fill="none" />
<ellipse cx="317" cy="264.5" rx="2.4" ry="1.9" transform="rotate(-20 317 264.5)" stroke="#000" stroke-width="1.0" fill="none" />
<path d="M316.5 269.5L322.5 273.5L332.3 268.6" stroke="#000" stroke-width="1.05" fill="none" />
<path d="M309.6 264.8L309 268" stroke="#000" stroke-width="1.0" fill="none" />
<path d="M319.5 271.8L319.8 275.5L322.8 273.8" stroke="#000" stroke-width="0.9" fill="none" />
<path d="M302.5 272.5L309 268L314.2 272.5L307.7 277.7L302.5 272.5L303.2 277.2L302.4 279.9" stroke="#000" stroke-width="1.1" fill="none" />
<path d="M307.7 277.7L308 281.5L313 277.5L314.2 272.5" stroke="#000" stroke-width="1.0" fill="none" />
<path d="M308.7 277.6L314.9 293.1L316.1 277" stroke="#000" stroke-width="1.0" fill="none" />
<ellipse cx="347.6" cy="298.4" rx="1.5" ry="3" transform="rotate(25 347.6 298.4)" stroke="#000" stroke-width="1.0" fill="none" />
<path d="M345.5 292.5C345.2 293.2 343.9 295.3 343.8 297C343.7 298.7 344.2 301.2 345 302.5C345.8 303.8 347.9 304.6 348.5 305" stroke="#000" stroke-width="0.9" fill="none" />
<ellipse cx="281.3" cy="347.4" rx="1.6" ry="2.8" transform="rotate(30 281.3 347.4)" stroke="#000" stroke-width="1.0" fill="none" />
<path d="M274.5 340.5C275.6 340.7 278.7 340.9 281 341.5C283.3 342.1 287.7 342.4 288.5 344C289.3 345.6 287 348.7 286 351C285 353.3 283.1 356.8 282.5 358" stroke="#000" stroke-width="1.0" fill="none" />
<path d="M275 352C275.7 352.7 277.8 355 279 356C280.2 357 281.9 357.7 282.5 358" stroke="#000" stroke-width="0.9" fill="none" />
<path d="M311 362.5L310.5 369.8L313.5 370.2L313.8 361.5" stroke="#000" stroke-width="1.0" fill="#fff" />
<path d="M311 362.5C311.2 362.1 311.8 360.2 312.3 360C312.8 359.8 313.6 361.2 313.8 361.5" stroke="#000" stroke-width="1.0" fill="none" />
<path d="M23.9 405.6L27.6 392.6L29.7 396.6L46.8 387.5L51.7 396.8L34.7 405.8L36.8 409.8Z" stroke="#000" stroke-width="0.6" fill="#000" />
<text transform="translate(52.2 394.6) rotate(-28)" x="0" y="0" font-size="14" font-weight="bold" text-anchor="start" style="stroke-width:0.9px">FR</text>
<circle cx="71.3" cy="382.5" r="2.2" fill="#000"/>
<g transform="translate(736.7 136.1)"><path d="M-1 -7 L-6 -6.2 Q-9.4 -3.2 -8.7 1.6 L-5.8 4.8 L0 6Z" fill="#fff" stroke="#000" stroke-width="1.25"/><path d="M-5.2 -6.3 Q-6.9 -1.5 -5.4 4.6" fill="none" stroke="#000" stroke-width="0.9"/><path d="M-7.6 -3.5 L-7.2 -1" fill="none" stroke="#000" stroke-width="0.8"/><ellipse cx="0.6" cy="0.4" rx="4.6" ry="7.9" transform="rotate(22 0.6 0.4)" fill="#fff" stroke="#000" stroke-width="1.25"/><ellipse cx="3.1" cy="0.8" rx="4.6" ry="7.9" transform="rotate(22 3.1 0.8)" fill="#fff" stroke="#000" stroke-width="1.25"/><ellipse cx="2.6" cy="1" rx="3.6" ry="6.4" transform="rotate(22 2.6 1)" fill="none" stroke="#000" stroke-width="0.8"/><ellipse cx="2.3" cy="1.2" rx="2" ry="3.7" transform="rotate(22 2.3 1.2)" fill="#fff" stroke="#000" stroke-width="1.4"/></g>
<g transform="translate(750.6 144.6) rotate(28)"><rect x="0" y="-2.45" width="14" height="4.9" rx="1.4" fill="#fff" stroke="#000" stroke-width="1.25"/><line x1="2.1999999999999997" y1="-2.4" x2="1.5999999999999999" y2="2.4" stroke="#000" stroke-width="1.0"/><line x1="4.1" y1="-2.4" x2="3.5" y2="2.4" stroke="#000" stroke-width="1.0"/><line x1="6.0" y1="-2.4" x2="5.4" y2="2.4" stroke="#000" stroke-width="1.0"/><line x1="7.8999999999999995" y1="-2.4" x2="7.3" y2="2.4" stroke="#000" stroke-width="1.0"/><line x1="9.8" y1="-2.4" x2="9.2" y2="2.4" stroke="#000" stroke-width="1.0"/><line x1="11.700000000000001" y1="-2.4" x2="11.1" y2="2.4" stroke="#000" stroke-width="1.0"/><line x1="13.3" y1="-2.4" x2="12.7" y2="2.4" stroke="#000" stroke-width="1.0"/><rect x="16" y="-2.6" width="13" height="5.2" fill="#fff" stroke="#000" stroke-width="1.25"/><ellipse cx="15" cy="0" rx="1.5" ry="4.6" fill="#fff" stroke="#000" stroke-width="1.25"/><ellipse cx="17.2" cy="0" rx="1.5" ry="4.6" fill="#fff" stroke="#000" stroke-width="1.25"/><rect x="30" y="-4.3" width="8" height="8.6" rx="1" fill="#fff" stroke="#000" stroke-width="1.25"/><ellipse cx="38" cy="0" rx="2.6" ry="4.4" fill="#fff" stroke="#000" stroke-width="1.25"/><line x1="31.5" y1="-1.6" x2="36.5" y2="-1.6" stroke="#000" stroke-width="0.8"/><line x1="31.5" y1="2.2" x2="36" y2="2.2" stroke="#000" stroke-width="0.8"/><ellipse cx="27.6" cy="0" rx="2.1" ry="6.1" fill="#fff" stroke="#000" stroke-width="1.25"/><ellipse cx="30" cy="0" rx="2.1" ry="6.1" fill="#fff" stroke="#000" stroke-width="1.25"/></g>
<g transform="translate(689.3 188.8)"><path d="M-1 -7 L-6 -6.2 Q-9.4 -3.2 -8.7 1.6 L-5.8 4.8 L0 6Z" fill="#fff" stroke="#000" stroke-width="1.25"/><path d="M-5.2 -6.3 Q-6.9 -1.5 -5.4 4.6" fill="none" stroke="#000" stroke-width="0.9"/><path d="M-7.6 -3.5 L-7.2 -1" fill="none" stroke="#000" stroke-width="0.8"/><ellipse cx="0.6" cy="0.4" rx="4.6" ry="7.9" transform="rotate(22 0.6 0.4)" fill="#fff" stroke="#000" stroke-width="1.25"/><ellipse cx="3.1" cy="0.8" rx="4.6" ry="7.9" transform="rotate(22 3.1 0.8)" fill="#fff" stroke="#000" stroke-width="1.25"/><ellipse cx="2.6" cy="1" rx="3.6" ry="6.4" transform="rotate(22 2.6 1)" fill="none" stroke="#000" stroke-width="0.8"/><ellipse cx="2.3" cy="1.2" rx="2" ry="3.7" transform="rotate(22 2.3 1.2)" fill="#fff" stroke="#000" stroke-width="1.4"/></g>
<g transform="translate(701.7 196.4) rotate(28)"><rect x="0" y="-2.45" width="14" height="4.9" rx="1.4" fill="#fff" stroke="#000" stroke-width="1.25"/><line x1="2.1999999999999997" y1="-2.4" x2="1.5999999999999999" y2="2.4" stroke="#000" stroke-width="1.0"/><line x1="4.1" y1="-2.4" x2="3.5" y2="2.4" stroke="#000" stroke-width="1.0"/><line x1="6.0" y1="-2.4" x2="5.4" y2="2.4" stroke="#000" stroke-width="1.0"/><line x1="7.8999999999999995" y1="-2.4" x2="7.3" y2="2.4" stroke="#000" stroke-width="1.0"/><line x1="9.8" y1="-2.4" x2="9.2" y2="2.4" stroke="#000" stroke-width="1.0"/><line x1="11.700000000000001" y1="-2.4" x2="11.1" y2="2.4" stroke="#000" stroke-width="1.0"/><line x1="13.3" y1="-2.4" x2="12.7" y2="2.4" stroke="#000" stroke-width="1.0"/><rect x="16" y="-2.6" width="13" height="5.2" fill="#fff" stroke="#000" stroke-width="1.25"/><ellipse cx="15" cy="0" rx="1.5" ry="4.6" fill="#fff" stroke="#000" stroke-width="1.25"/><ellipse cx="17.2" cy="0" rx="1.5" ry="4.6" fill="#fff" stroke="#000" stroke-width="1.25"/><rect x="30" y="-4.3" width="8" height="8.6" rx="1" fill="#fff" stroke="#000" stroke-width="1.25"/><ellipse cx="38" cy="0" rx="2.6" ry="4.4" fill="#fff" stroke="#000" stroke-width="1.25"/><line x1="31.5" y1="-1.6" x2="36.5" y2="-1.6" stroke="#000" stroke-width="0.8"/><line x1="31.5" y1="2.2" x2="36" y2="2.2" stroke="#000" stroke-width="0.8"/><ellipse cx="27.6" cy="0" rx="2.1" ry="6.1" fill="#fff" stroke="#000" stroke-width="1.25"/><ellipse cx="30" cy="0" rx="2.1" ry="6.1" fill="#fff" stroke="#000" stroke-width="1.25"/></g>
<g transform="translate(622.9 230.1)"><path d="M-1 -7 L-6 -6.2 Q-9.4 -3.2 -8.7 1.6 L-5.8 4.8 L0 6Z" fill="#fff" stroke="#000" stroke-width="1.25"/><path d="M-5.2 -6.3 Q-6.9 -1.5 -5.4 4.6" fill="none" stroke="#000" stroke-width="0.9"/><path d="M-7.6 -3.5 L-7.2 -1" fill="none" stroke="#000" stroke-width="0.8"/><ellipse cx="0.6" cy="0.4" rx="4.6" ry="7.9" transform="rotate(22 0.6 0.4)" fill="#fff" stroke="#000" stroke-width="1.25"/><ellipse cx="3.1" cy="0.8" rx="4.6" ry="7.9" transform="rotate(22 3.1 0.8)" fill="#fff" stroke="#000" stroke-width="1.25"/><ellipse cx="2.6" cy="1" rx="3.6" ry="6.4" transform="rotate(22 2.6 1)" fill="none" stroke="#000" stroke-width="0.8"/><ellipse cx="2.3" cy="1.2" rx="2" ry="3.7" transform="rotate(22 2.3 1.2)" fill="#fff" stroke="#000" stroke-width="1.4"/></g>
<g transform="translate(636.1 238.5) rotate(28)"><rect x="0" y="-2.45" width="14" height="4.9" rx="1.4" fill="#fff" stroke="#000" stroke-width="1.25"/><line x1="2.1999999999999997" y1="-2.4" x2="1.5999999999999999" y2="2.4" stroke="#000" stroke-width="1.0"/><line x1="4.1" y1="-2.4" x2="3.5" y2="2.4" stroke="#000" stroke-width="1.0"/><line x1="6.0" y1="-2.4" x2="5.4" y2="2.4" stroke="#000" stroke-width="1.0"/><line x1="7.8999999999999995" y1="-2.4" x2="7.3" y2="2.4" stroke="#000" stroke-width="1.0"/><line x1="9.8" y1="-2.4" x2="9.2" y2="2.4" stroke="#000" stroke-width="1.0"/><line x1="11.700000000000001" y1="-2.4" x2="11.1" y2="2.4" stroke="#000" stroke-width="1.0"/><line x1="13.3" y1="-2.4" x2="12.7" y2="2.4" stroke="#000" stroke-width="1.0"/><rect x="16" y="-2.6" width="13" height="5.2" fill="#fff" stroke="#000" stroke-width="1.25"/><ellipse cx="15" cy="0" rx="1.5" ry="4.6" fill="#fff" stroke="#000" stroke-width="1.25"/><ellipse cx="17.2" cy="0" rx="1.5" ry="4.6" fill="#fff" stroke="#000" stroke-width="1.25"/><rect x="30" y="-4.3" width="8" height="8.6" rx="1" fill="#fff" stroke="#000" stroke-width="1.25"/><ellipse cx="38" cy="0" rx="2.6" ry="4.4" fill="#fff" stroke="#000" stroke-width="1.25"/><line x1="31.5" y1="-1.6" x2="36.5" y2="-1.6" stroke="#000" stroke-width="0.8"/><line x1="31.5" y1="2.2" x2="36" y2="2.2" stroke="#000" stroke-width="0.8"/><ellipse cx="27.6" cy="0" rx="2.1" ry="6.1" fill="#fff" stroke="#000" stroke-width="1.25"/><ellipse cx="30" cy="0" rx="2.1" ry="6.1" fill="#fff" stroke="#000" stroke-width="1.25"/></g>
<g transform="translate(714.6 276.1)"><path d="M-1 -7 L-6 -6.2 Q-9.4 -3.2 -8.7 1.6 L-5.8 4.8 L0 6Z" fill="#fff" stroke="#000" stroke-width="1.25"/><path d="M-5.2 -6.3 Q-6.9 -1.5 -5.4 4.6" fill="none" stroke="#000" stroke-width="0.9"/><path d="M-7.6 -3.5 L-7.2 -1" fill="none" stroke="#000" stroke-width="0.8"/><ellipse cx="0.6" cy="0.4" rx="4.6" ry="7.9" transform="rotate(22 0.6 0.4)" fill="#fff" stroke="#000" stroke-width="1.25"/><ellipse cx="3.1" cy="0.8" rx="4.6" ry="7.9" transform="rotate(22 3.1 0.8)" fill="#fff" stroke="#000" stroke-width="1.25"/><ellipse cx="2.6" cy="1" rx="3.6" ry="6.4" transform="rotate(22 2.6 1)" fill="none" stroke="#000" stroke-width="0.8"/><ellipse cx="2.3" cy="1.2" rx="2" ry="3.7" transform="rotate(22 2.3 1.2)" fill="#fff" stroke="#000" stroke-width="1.4"/></g>
<g transform="translate(727.4 283.6) rotate(28)"><rect x="0" y="-2.45" width="14" height="4.9" rx="1.4" fill="#fff" stroke="#000" stroke-width="1.25"/><line x1="2.1999999999999997" y1="-2.4" x2="1.5999999999999999" y2="2.4" stroke="#000" stroke-width="1.0"/><line x1="4.1" y1="-2.4" x2="3.5" y2="2.4" stroke="#000" stroke-width="1.0"/><line x1="6.0" y1="-2.4" x2="5.4" y2="2.4" stroke="#000" stroke-width="1.0"/><line x1="7.8999999999999995" y1="-2.4" x2="7.3" y2="2.4" stroke="#000" stroke-width="1.0"/><line x1="9.8" y1="-2.4" x2="9.2" y2="2.4" stroke="#000" stroke-width="1.0"/><line x1="11.700000000000001" y1="-2.4" x2="11.1" y2="2.4" stroke="#000" stroke-width="1.0"/><line x1="13.3" y1="-2.4" x2="12.7" y2="2.4" stroke="#000" stroke-width="1.0"/><rect x="16" y="-2.6" width="13" height="5.2" fill="#fff" stroke="#000" stroke-width="1.25"/><ellipse cx="15" cy="0" rx="1.5" ry="4.6" fill="#fff" stroke="#000" stroke-width="1.25"/><ellipse cx="17.2" cy="0" rx="1.5" ry="4.6" fill="#fff" stroke="#000" stroke-width="1.25"/><rect x="30" y="-4.3" width="8" height="8.6" rx="1" fill="#fff" stroke="#000" stroke-width="1.25"/><ellipse cx="38" cy="0" rx="2.6" ry="4.4" fill="#fff" stroke="#000" stroke-width="1.25"/><line x1="31.5" y1="-1.6" x2="36.5" y2="-1.6" stroke="#000" stroke-width="0.8"/><line x1="31.5" y1="2.2" x2="36" y2="2.2" stroke="#000" stroke-width="0.8"/><ellipse cx="27.6" cy="0" rx="2.1" ry="6.1" fill="#fff" stroke="#000" stroke-width="1.25"/><ellipse cx="30" cy="0" rx="2.1" ry="6.1" fill="#fff" stroke="#000" stroke-width="1.25"/></g>
<g transform="translate(553.9 309.4)"><path d="M-1 -7 L-6 -6.2 Q-9.4 -3.2 -8.7 1.6 L-5.8 4.8 L0 6Z" fill="#fff" stroke="#000" stroke-width="1.25"/><path d="M-5.2 -6.3 Q-6.9 -1.5 -5.4 4.6" fill="none" stroke="#000" stroke-width="0.9"/><path d="M-7.6 -3.5 L-7.2 -1" fill="none" stroke="#000" stroke-width="0.8"/><ellipse cx="0.6" cy="0.4" rx="4.6" ry="7.9" transform="rotate(22 0.6 0.4)" fill="#fff" stroke="#000" stroke-width="1.25"/><ellipse cx="3.1" cy="0.8" rx="4.6" ry="7.9" transform="rotate(22 3.1 0.8)" fill="#fff" stroke="#000" stroke-width="1.25"/><ellipse cx="2.6" cy="1" rx="3.6" ry="6.4" transform="rotate(22 2.6 1)" fill="none" stroke="#000" stroke-width="0.8"/><ellipse cx="2.3" cy="1.2" rx="2" ry="3.7" transform="rotate(22 2.3 1.2)" fill="#fff" stroke="#000" stroke-width="1.4"/></g>
<g transform="translate(566.7 317.3) rotate(28)"><rect x="0" y="-2.45" width="14" height="4.9" rx="1.4" fill="#fff" stroke="#000" stroke-width="1.25"/><line x1="2.1999999999999997" y1="-2.4" x2="1.5999999999999999" y2="2.4" stroke="#000" stroke-width="1.0"/><line x1="4.1" y1="-2.4" x2="3.5" y2="2.4" stroke="#000" stroke-width="1.0"/><line x1="6.0" y1="-2.4" x2="5.4" y2="2.4" stroke="#000" stroke-width="1.0"/><line x1="7.8999999999999995" y1="-2.4" x2="7.3" y2="2.4" stroke="#000" stroke-width="1.0"/><line x1="9.8" y1="-2.4" x2="9.2" y2="2.4" stroke="#000" stroke-width="1.0"/><line x1="11.700000000000001" y1="-2.4" x2="11.1" y2="2.4" stroke="#000" stroke-width="1.0"/><line x1="13.3" y1="-2.4" x2="12.7" y2="2.4" stroke="#000" stroke-width="1.0"/><rect x="16" y="-2.6" width="13" height="5.2" fill="#fff" stroke="#000" stroke-width="1.25"/><ellipse cx="15" cy="0" rx="1.5" ry="4.6" fill="#fff" stroke="#000" stroke-width="1.25"/><ellipse cx="17.2" cy="0" rx="1.5" ry="4.6" fill="#fff" stroke="#000" stroke-width="1.25"/><rect x="30" y="-4.3" width="8" height="8.6" rx="1" fill="#fff" stroke="#000" stroke-width="1.25"/><ellipse cx="38" cy="0" rx="2.6" ry="4.4" fill="#fff" stroke="#000" stroke-width="1.25"/><line x1="31.5" y1="-1.6" x2="36.5" y2="-1.6" stroke="#000" stroke-width="0.8"/><line x1="31.5" y1="2.2" x2="36" y2="2.2" stroke="#000" stroke-width="0.8"/><ellipse cx="27.6" cy="0" rx="2.1" ry="6.1" fill="#fff" stroke="#000" stroke-width="1.25"/><ellipse cx="30" cy="0" rx="2.1" ry="6.1" fill="#fff" stroke="#000" stroke-width="1.25"/></g>
<text x="760.8" y="75.5" font-size="13.8" text-anchor="middle" >10</text>
<text x="740.8" y="117.7" font-size="13.8" text-anchor="middle" >11</text>
<path d="M760.6 79.5L760.6 96" stroke="#000" stroke-width="1.0" fill="none" />
<path d="M740.4 101.7L740.4 96L780 96L780 153" stroke="#000" stroke-width="1.0" fill="none" />
<line x1="740.4" y1="121.6" x2="740.4" y2="128.6" stroke="#000" stroke-width="1.0" />
<text x="688" y="223.3" font-size="13.8" text-anchor="middle" >11</text>
<text x="706.5" y="261.3" font-size="13.8" text-anchor="middle" >10</text>
<line x1="688" y1="198.2" x2="688" y2="207.6" stroke="#000" stroke-width="1.0" />
<path d="M688.2 228.2L688.2 233.8L724.9 233.8L724.9 219.1" stroke="#000" stroke-width="1.0" fill="none" />
<line x1="706.1" y1="233.8" x2="706.1" y2="248.9" stroke="#000" stroke-width="1.0" />
<text x="623.7" y="264.5" font-size="13.8" text-anchor="middle" >11</text>
<text x="642.7" y="306" font-size="13.8" text-anchor="middle" >10</text>
<line x1="623.9" y1="239.5" x2="623.9" y2="248.9" stroke="#000" stroke-width="1.0" />
<path d="M624.6 269.6L624.6 277.1L660.9 277.1L660.9 261.1" stroke="#000" stroke-width="1.0" fill="none" />
<line x1="642.5" y1="277.1" x2="642.5" y2="293.4" stroke="#000" stroke-width="1.0" />
<text x="715" y="310.1" font-size="13.8" text-anchor="middle" >11</text>
<text x="734.4" y="352.1" font-size="13.8" text-anchor="middle" >10</text>
<line x1="715.2" y1="285.5" x2="715.2" y2="295" stroke="#000" stroke-width="1.0" />
<path d="M715.5 314.5L715.5 323.3L752.2 323.3L752.2 306" stroke="#000" stroke-width="1.0" fill="none" />
<line x1="734" y1="323.3" x2="734" y2="338.6" stroke="#000" stroke-width="1.0" />
<text x="552" y="343.3" font-size="13.8" text-anchor="middle" >11</text>
<text x="571.2" y="385.4" font-size="13.8" text-anchor="middle" >10</text>
<line x1="552" y1="319.2" x2="552" y2="327.6" stroke="#000" stroke-width="1.0" />
<path d="M552.9 349.3L552.9 356.3L589.3 356.3L589.3 339.9" stroke="#000" stroke-width="1.0" fill="none" />
<line x1="570.6" y1="356.3" x2="570.6" y2="370.2" stroke="#000" stroke-width="1.0" />
<text x="75.3" y="135.6" font-size="13.8" text-anchor="middle" >7</text>
<line x1="75.4" y1="137.8" x2="75.4" y2="157" stroke="#000" stroke-width="1.0" />
<text x="120.1" y="191.7" font-size="13.8" text-anchor="middle" >8</text>
<line x1="125.3" y1="187" x2="144.8" y2="187" stroke="#000" stroke-width="1.0" />
<g transform="translate(151.2 186.5)"><ellipse cx="-3.1" cy="-0.4" rx="3.7" ry="5.8" transform="rotate(12 -3.1 -0.4)" fill="#fff" stroke="#000" stroke-width="1.2"/><ellipse cx="-1.7" cy="-0.2" rx="3.7" ry="5.8" transform="rotate(12 -1.7 -0.2)" fill="#fff" stroke="#000" stroke-width="1.2"/><path d="M-0.5 -3.6 L3.6 -3.4 L6.5 -0.6 L6.4 3.4 L3.6 5.6 L0 5.2 Z" fill="#fff" stroke="#000" stroke-width="1.2"/><ellipse cx="3.6" cy="2" rx="2.3" ry="2.8" fill="#fff" stroke="#000" stroke-width="1"/><ellipse cx="3.7" cy="2.1" rx="1.1" ry="1.5" fill="#fff" stroke="#000" stroke-width="0.8"/></g>
<text x="109.7" y="285" font-size="13.8" text-anchor="middle" >8</text>
<line x1="109.7" y1="257.9" x2="109.7" y2="273.4" stroke="#000" stroke-width="1.0" />
<g transform="translate(109.5 248.8)"><ellipse cx="-3.1" cy="-0.4" rx="3.7" ry="5.8" transform="rotate(12 -3.1 -0.4)" fill="#fff" stroke="#000" stroke-width="1.2"/><ellipse cx="-1.7" cy="-0.2" rx="3.7" ry="5.8" transform="rotate(12 -1.7 -0.2)" fill="#fff" stroke="#000" stroke-width="1.2"/><path d="M-0.5 -3.6 L3.6 -3.4 L6.5 -0.6 L6.4 3.4 L3.6 5.6 L0 5.2 Z" fill="#fff" stroke="#000" stroke-width="1.2"/><ellipse cx="3.6" cy="2" rx="2.3" ry="2.8" fill="#fff" stroke="#000" stroke-width="1"/><ellipse cx="3.7" cy="2.1" rx="1.1" ry="1.5" fill="#fff" stroke="#000" stroke-width="0.8"/></g>
<text x="169.7" y="324.7" font-size="13.8" text-anchor="middle" >5</text>
<text x="272.9" y="172" font-size="13.8" text-anchor="middle" >3</text>
<line x1="273.5" y1="175" x2="273.5" y2="192.5" stroke="#000" stroke-width="1.0" />
<text x="256" y="219.4" font-size="13.8" text-anchor="middle" >4</text>
<line x1="256" y1="222.5" x2="256" y2="240" stroke="#000" stroke-width="1.0" />
<text x="292.8" y="262.9" font-size="13.8" text-anchor="middle" >6</text>
<line x1="293" y1="266" x2="293" y2="283" stroke="#000" stroke-width="1.0" />
<text x="395.2" y="296.9" font-size="13.8" text-anchor="middle" >9</text>
<line x1="395.2" y1="299.3" x2="395.2" y2="319" stroke="#000" stroke-width="1.0" />
<g transform="translate(379.1 319) rotate(28.5)"><rect x="0" y="-2.3" width="11" height="4.6" rx="1.2" fill="#fff" stroke="#000" stroke-width="1.25"/><line x1="1.85" y1="-2.2" x2="1.35" y2="2.2" stroke="#000" stroke-width="0.95"/><line x1="3.45" y1="-2.2" x2="2.95" y2="2.2" stroke="#000" stroke-width="0.95"/><line x1="5.05" y1="-2.2" x2="4.55" y2="2.2" stroke="#000" stroke-width="0.95"/><line x1="6.65" y1="-2.2" x2="6.15" y2="2.2" stroke="#000" stroke-width="0.95"/><line x1="8.25" y1="-2.2" x2="7.75" y2="2.2" stroke="#000" stroke-width="0.95"/><rect x="10" y="-2.8" width="4" height="5.6" fill="#fff" stroke="#000" stroke-width="1.25"/><rect x="15" y="-4.5" width="8.8" height="9" rx="1" fill="#fff" stroke="#000" stroke-width="1.25"/><ellipse cx="23.6" cy="0" rx="2.8" ry="4.6" fill="#fff" stroke="#000" stroke-width="1.25"/><line x1="16.5" y1="-1.6" x2="22" y2="-1.6" stroke="#000" stroke-width="0.8"/><line x1="16.5" y1="2.3" x2="21.5" y2="2.3" stroke="#000" stroke-width="0.8"/><ellipse cx="12.7" cy="0" rx="2" ry="6.3" fill="#fff" stroke="#000" stroke-width="1.25"/><ellipse cx="14.9" cy="0" rx="2" ry="6.3" fill="#fff" stroke="#000" stroke-width="1.25"/></g>
<text x="373.7" y="391.4" font-size="13.8" text-anchor="middle" >9</text>
<line x1="349.5" y1="386.7" x2="368" y2="386.7" stroke="#000" stroke-width="1.0" />
<g transform="translate(326 375.6) rotate(28.5)"><rect x="0" y="-2.3" width="11" height="4.6" rx="1.2" fill="#fff" stroke="#000" stroke-width="1.25"/><line x1="1.85" y1="-2.2" x2="1.35" y2="2.2" stroke="#000" stroke-width="0.95"/><line x1="3.45" y1="-2.2" x2="2.95" y2="2.2" stroke="#000" stroke-width="0.95"/><line x1="5.05" y1="-2.2" x2="4.55" y2="2.2" stroke="#000" stroke-width="0.95"/><line x1="6.65" y1="-2.2" x2="6.15" y2="2.2" stroke="#000" stroke-width="0.95"/><line x1="8.25" y1="-2.2" x2="7.75" y2="2.2" stroke="#000" stroke-width="0.95"/><rect x="10" y="-2.8" width="4" height="5.6" fill="#fff" stroke="#000" stroke-width="1.25"/><rect x="15" y="-4.5" width="8.8" height="9" rx="1" fill="#fff" stroke="#000" stroke-width="1.25"/><ellipse cx="23.6" cy="0" rx="2.8" ry="4.6" fill="#fff" stroke="#000" stroke-width="1.25"/><line x1="16.5" y1="-1.6" x2="22" y2="-1.6" stroke="#000" stroke-width="0.8"/><line x1="16.5" y1="2.3" x2="21.5" y2="2.3" stroke="#000" stroke-width="0.8"/><ellipse cx="12.7" cy="0" rx="2" ry="6.3" fill="#fff" stroke="#000" stroke-width="1.25"/><ellipse cx="14.9" cy="0" rx="2" ry="6.3" fill="#fff" stroke="#000" stroke-width="1.25"/></g>
<text x="369.8" y="140" font-size="13.8" text-anchor="middle" >12</text>
<line x1="370.5" y1="143.2" x2="370.5" y2="160.5" stroke="#000" stroke-width="1.0" />
<g transform="translate(372.7 168) rotate(20)"><path d="M0 -3.9 L-8.5 -3.9 Q-11.2 -3.9 -11.2 0 Q-11.2 3.9 -8.5 3.9 L0 3.9Z" fill="#fff" stroke="#000" stroke-width="1.25"/><ellipse cx="0" cy="0" rx="2.7" ry="3.9" fill="#fff" stroke="#000" stroke-width="1.25"/><ellipse cx="0.2" cy="0" rx="1.2" ry="1.9" fill="#fff" stroke="#000" stroke-width="1"/></g>
<text x="524.2" y="29.5" font-size="13.8" text-anchor="middle" >12</text>
<line x1="532.8" y1="24.1" x2="552.6" y2="24.1" stroke="#000" stroke-width="1.0" />
<g transform="translate(562.7 25.3) rotate(20)"><path d="M0 -3.9 L-8.5 -3.9 Q-11.2 -3.9 -11.2 0 Q-11.2 3.9 -8.5 3.9 L0 3.9Z" fill="#fff" stroke="#000" stroke-width="1.25"/><ellipse cx="0" cy="0" rx="2.7" ry="3.9" fill="#fff" stroke="#000" stroke-width="1.25"/><ellipse cx="0.2" cy="0" rx="1.2" ry="1.9" fill="#fff" stroke="#000" stroke-width="1"/></g>
<text x="475" y="81.7" font-size="13.8" text-anchor="middle" >2</text>
<line x1="475.5" y1="85" x2="475.5" y2="103" stroke="#000" stroke-width="1.0" />
<text x="462" y="315.7" font-size="13.8" text-anchor="middle" >1</text>
<line x1="462" y1="283" x2="462" y2="303" stroke="#000" stroke-width="1.0" />
<text x="717.8" y="405.6" font-size="10.4" text-anchor="start" textLength="51.6" lengthAdjust="spacingAndGlyphs" style="stroke-width:0.3px">KTZ7E1100</text>
<line x1="97.4" y1="158" x2="213" y2="158" stroke="#000" stroke-width="1.05" stroke-dasharray="35.3 3.5 4.6 3.5 200" stroke-dashoffset="0" stroke-linecap="butt"/>
<line x1="213" y1="158" x2="368" y2="248.6" stroke="#000" stroke-width="1.05" stroke-dasharray="9.1 4.1 6.1 4.1 69.5 4.1 4.8 5.2 100" stroke-dashoffset="0" stroke-linecap="butt"/>
<line x1="368" y1="248.6" x2="368" y2="321" stroke="#000" stroke-width="1.05" stroke-dasharray="20 3.5 4.6 3.5 100" stroke-dashoffset="0" stroke-linecap="butt"/>
<line x1="368" y1="321" x2="306.2" y2="389.2" stroke="#000" stroke-width="1.05" stroke-dasharray="200" stroke-dashoffset="0" stroke-linecap="butt"/>
<line x1="306.2" y1="389.2" x2="237" y2="389.2" stroke="#000" stroke-width="1.05" stroke-dasharray="200" stroke-dashoffset="0" stroke-linecap="butt"/>
<line x1="237" y1="389.2" x2="97.4" y2="307" stroke="#000" stroke-width="1.05" stroke-dasharray="3.5 3 4.5 4 73.7 3.5 5 3.5 100" stroke-dashoffset="0" stroke-linecap="butt"/>
<line x1="97.4" y1="158" x2="97.4" y2="307" stroke="#000" stroke-width="1.05" stroke-dasharray="39 3.5 5 3.5 70 3.5 4.6 3.5 100" stroke-dashoffset="0" stroke-linecap="butt"/>
</svg></body></html>
